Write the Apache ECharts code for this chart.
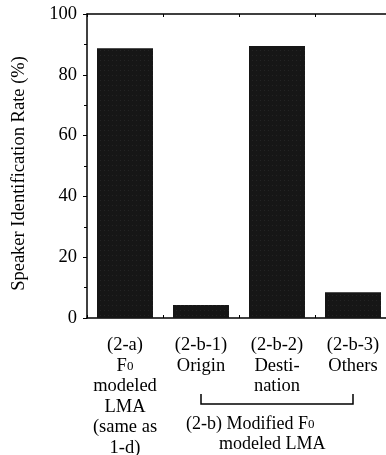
<!DOCTYPE html>
<html>
<head>
<meta charset="utf-8">
<script src="https://cdn.jsdelivr.net/npm/echarts@6/dist/echarts.min.js"></script>
<style>
html,body{margin:0;padding:0;background:#fff;}
#c{width:386px;height:455px;}
</style>
</head>
<body>
<div id="c"></div>
<script>
const categories = [
  '(2-a)\nF{sub|0}\nmodeled\nLMA\n(same as\n1-d)',
  '(2-b-1)\nOrigin',
  '(2-b-2)\nDesti-\nnation',
  '(2-b-3)\nOthers'
];
const values = [88.7, 4.3, 89.5, 8.5];
const yMin = 0, yMax = 100, yInterval = 20;
const yAxisTitle = 'Speaker Identification Rate (%)';
const groupLine1 = '(2-b) Modified F{sub|0}';
const groupLine2 = 'modeled LMA';

const FONT = '"Liberation Serif", "Times New Roman", serif';
const chart = echarts.init(document.getElementById('c'));
const subStyle = { fontSize: 13, fontFamily: FONT, color: '#000', verticalAlign: 'bottom', lineHeight: 20.5, padding: [0, 0, 3, 0] };

chart.setOption({
  animation: false,
  backgroundColor: '#fff',
  grid: { left: 87, top: 14, right: -5, bottom: 137, containLabel: false, outerBoundsMode: 'none' },
  xAxis: [{
    type: 'category',
    data: categories,
    position: 'bottom',
    axisLine: { show: true, lineStyle: { color: '#000', width: 1.5 } },
    axisTick: { show: true, inside: true, length: 3, lineStyle: { color: '#000' } },
    axisLabel: {
      interval: 0, margin: 17, color: '#000', fontFamily: FONT, fontSize: 18.5, lineHeight: 20.5,
      rich: { sub: subStyle }
    }
  }, {
    type: 'category',
    data: categories,
    position: 'top',
    axisLine: { show: true, lineStyle: { color: '#000', width: 1.5 } },
    axisTick: { show: true, inside: true, length: 3, lineStyle: { color: '#000' } },
    axisLabel: { show: false }
  }],
  yAxis: {
    type: 'value',
    min: yMin, max: yMax, interval: yInterval,
    name: yAxisTitle,
    nameLocation: 'middle',
    nameGap: 58,
    nameTextStyle: { color: '#000', fontFamily: FONT, fontSize: 18.5, padding: [0, 15, 0, 0] },
    axisLine: { show: true, lineStyle: { color: '#000', width: 1.5 } },
    axisTick: { show: true, inside: false, length: 4, lineStyle: { color: '#000' } },
    minorTick: { show: true, splitNumber: 2, length: 3, lineStyle: { color: '#000' } },
    splitLine: { show: false },
    axisLabel: { color: '#000', fontFamily: FONT, fontSize: 18.5, margin: 10 }
  },
  series: [{
    type: 'bar',
    data: values,
    barWidth: 56,
    itemStyle: {
      color: '#161616',
      decal: {
        symbol: 'rect',
        symbolSize: 0.5,
        color: 'rgba(150,150,150,0.45)',
        dashArrayX: [1, 3],
        dashArrayY: [1, 4],
        rotation: 0
      }
    }
  }]
});

function drawBracket() {
  const p1 = chart.convertToPixel({ xAxisIndex: 0 }, categories[1]);
  const p3 = chart.convertToPixel({ xAxisIndex: 0 }, categories[3]);
  const yLine = 404, yTop = 394;
  chart.setOption({
    graphic: [
      { type: 'polyline', shape: { points: [[p1, yTop], [p1, yLine], [p3, yLine], [p3, yTop]] },
        style: { stroke: '#000', lineWidth: 1.5, fill: null } },
      { type: 'text', x: p1 - 15, y: 424,
        style: { text: groupLine1, font: '18px ' + FONT, fill: '#000', verticalAlign: 'middle', align: 'left',
                 rich: { sub: { fontSize: 13, fontFamily: FONT, fill: '#000', verticalAlign: 'bottom', padding: [0,0,2,0] } } } },
      { type: 'text', x: p1 + 18, y: 444,
        style: { text: groupLine2, font: '18px ' + FONT, fill: '#000', verticalAlign: 'middle', align: 'left' } }
    ]
  });
}
drawBracket();
</script>
</body>
</html>
